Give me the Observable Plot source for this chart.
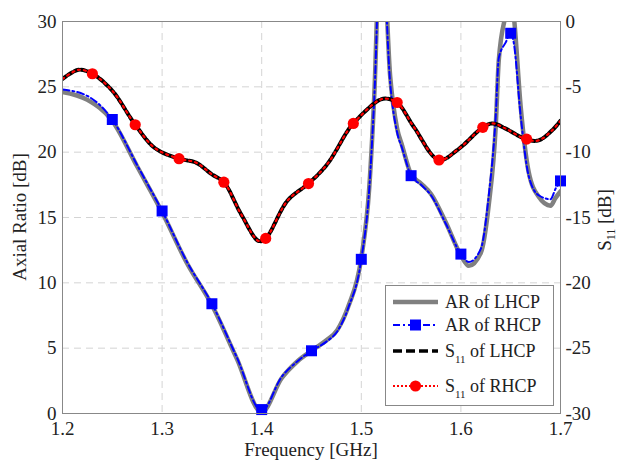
<!DOCTYPE html>
<html><head><meta charset="utf-8">
<script src="https://cdn.jsdelivr.net/npm/d3@7"></script>
<script src="https://cdn.jsdelivr.net/npm/@observablehq/plot@0.6"></script>
<style>
body{margin:0;background:#fff;}
#wrap{position:relative;width:617px;height:460px;font-family:Liberation Serif, DejaVu Serif, serif;}
#wrap svg, #wrap text{font-family:Liberation Serif, DejaVu Serif, serif;}
#legend{position:absolute;left:385px;top:285px;}
</style></head><body><div id="wrap"></div>
<script>
// ---- data ----
const freqAR = [1.200,1.225,1.250,1.275,1.300,1.325,1.350,1.375,1.400,1.420,1.436,1.450,1.465,1.476,1.487,1.500,1.508,1.513,1.520,1.529,1.536,1.541,1.550,1.560,1.570,1.585,1.600,1.608,1.620,1.628,1.635,1.638,1.645,1.650,1.653,1.660,1.668,1.678,1.690,1.695,1.700];
const arRhcp = [24.8,24.3,22.5,19.0,15.5,11.6,8.4,4.3,0.2,2.8,4.0,4.8,5.5,6.3,8.1,11.8,17.2,24.1,37.0,25.3,21.5,20.3,18.2,17.5,16.7,14.5,12.2,11.6,12.6,16.7,22.8,27.2,28.4,29.1,28.4,22.8,18.2,16.7,16.4,17.2,17.8];
const arLhcp = [24.6,24.0,22.4,18.9,15.4,11.5,8.3,4.2,0.1,2.7,4.0,4.8,5.6,6.4,8.2,11.9,17.3,24.3,38.0,25.8,21.8,20.5,18.3,17.6,16.8,14.6,12.1,11.3,12.3,16.0,22.0,27.0,30.5,32.0,30.5,23.5,18.5,16.6,15.9,16.5,17.0];
const freqS11 = [1.200,1.216,1.230,1.250,1.273,1.293,1.317,1.334,1.350,1.362,1.379,1.397,1.404,1.426,1.447,1.466,1.486,1.492,1.516,1.524,1.536,1.553,1.578,1.597,1.622,1.632,1.645,1.665,1.678,1.692,1.700];
const s11Lhcp = [-4.4,-3.7,-4.0,-5.3,-7.9,-9.7,-10.5,-10.8,-11.7,-12.3,-14.7,-16.8,-16.6,-13.7,-12.4,-10.9,-8.4,-7.8,-6.1,-5.9,-6.2,-8.1,-10.6,-9.8,-8.1,-7.8,-8.2,-9.0,-9.1,-8.3,-7.6];
const s11Rhcp = [-4.4,-3.7,-4.0,-5.3,-7.9,-9.7,-10.5,-10.8,-11.7,-12.3,-14.7,-16.8,-16.6,-13.7,-12.4,-10.9,-8.4,-7.8,-6.1,-5.9,-6.2,-8.1,-10.6,-9.8,-8.1,-7.8,-8.2,-9.0,-9.1,-8.3,-7.6];
const rhcpMarkerFreq = [1.25,1.30,1.35,1.40,1.45,1.50,1.55,1.60,1.65,1.70];
const rhcpMarkerAR = [22.5,15.5,8.4,0.3,4.8,11.8,18.2,12.2,29.1,17.8];
const s11MarkerFreq = [1.230,1.273,1.317,1.362,1.404,1.447,1.492,1.536,1.578,1.622,1.666];
const s11MarkerVal = [-4.0,-7.9,-10.5,-12.3,-16.6,-12.4,-7.8,-6.2,-10.6,-8.1,-9.0];
const xTicks = [1.2,1.3,1.4,1.5,1.6,1.7];
const arTicks = [0,5,10,15,20,25,30];
const s11Ticks = [-30,-25,-20,-15,-10,-5,0];
const arDomain = [0,30];
const s11Domain = [-30,0];
const legendLabels = ["AR of LHCP","AR of RHCP","S11 of LHCP","S11 of RHCP"];

// map S11 values onto the left (AR) scale for the twin axis
const s11ToAr = v => arDomain[0] + (v - s11Domain[0]) * (arDomain[1]-arDomain[0])/(s11Domain[1]-s11Domain[0]);
const arToS11 = a => s11Domain[0] + (a - arDomain[0]) * (s11Domain[1]-s11Domain[0])/(arDomain[1]-arDomain[0]);

const arTable = freqAR.map((f,i)=>({f, rhcp:arRhcp[i], lhcp:arLhcp[i]}));
const s11Table = freqS11.map((f,i)=>({f, lhcp:s11ToAr(s11Lhcp[i]), rhcp:s11ToAr(s11Rhcp[i])}));
const sqTable = rhcpMarkerFreq.map((f,i)=>({f, v:rhcpMarkerAR[i]}));
const ciTable = s11MarkerFreq.map((f,i)=>({f, v:s11ToAr(s11MarkerVal[i])}));

const BLUE = "#0000ff", RED = "#ff0000", GREY = "#808080";
const FONT = "Liberation Serif, DejaVu Serif, serif";
const gridStyle = {stroke:"#d4d4d4", strokeOpacity:1, strokeDasharray:"7,5", strokeWidth:1};

const chart = Plot.plot({
  width:617, height:460,
  marginLeft:62, marginRight:57, marginTop:21, marginBottom:47,
  style:{fontFamily:FONT, fontSize:"19px", color:"#222", background:"#fff"},
  x:{domain:[1.2,1.7]},
  y:{domain:arDomain},
  marks:[
    Plot.gridX(xTicks.slice(1,-1), gridStyle),
    Plot.gridY(arTicks.slice(1,-1), gridStyle),
    Plot.line(arTable, {x:"f", y:"lhcp", stroke:GREY, strokeWidth:4.5, curve:"monotone-x", clip:true}),
    Plot.line(arTable, {x:"f", y:"rhcp", stroke:BLUE, strokeWidth:2, strokeDasharray:"7,3,2,3", curve:"monotone-x", clip:true}),
    Plot.line(s11Table, {x:"f", y:"lhcp", stroke:"#000", strokeWidth:4, strokeDasharray:"5,2", curve:"catmull-rom", clip:true}),
    Plot.line(s11Table, {x:"f", y:"rhcp", stroke:RED, strokeWidth:2.2, strokeDasharray:"2,4", curve:"catmull-rom", clip:true}),
    Plot.dot(sqTable, {x:"f", y:"v", symbol:"square", r:6.2, fill:BLUE, stroke:"none"}),
    Plot.dot(ciTable, {x:"f", y:"v", symbol:"circle", r:5.6, fill:RED, stroke:"none"}),
    Plot.frame({stroke:"#888", strokeWidth:1}),
    Plot.axisX(xTicks, {anchor:"bottom", tickSize:0, tickPadding:8, tickFormat:d3.format(".1f"), label:null}),
    Plot.axisY(arTicks, {anchor:"left", tickSize:0, tickPadding:6, tickFormat:d=>String(d), label:null}),
    Plot.axisY(arTicks, {anchor:"right", tickSize:0, tickPadding:5, tickFormat:d=>String(arToS11(d)), label:null})
  ]
});
chart.style.fontFamily = FONT;
document.getElementById("wrap").appendChild(chart);

// axis titles
const svg = d3.select(chart);
const tcol = "#222";
svg.append("text").attr("x",311).attr("y",456).attr("text-anchor","middle").attr("font-family",FONT)
  .attr("fill",tcol).style("font-size","19px").text("Frequency [GHz]");
svg.append("text").attr("transform","translate(26,217) rotate(-90)").attr("text-anchor","middle").attr("font-family",FONT)
  .attr("fill",tcol).style("font-size","19px").text("Axial Ratio [dB]");
const rt = svg.append("text").attr("transform","translate(611,220) rotate(-90)").attr("text-anchor","middle").attr("font-family",FONT)
  .attr("fill",tcol).style("font-size","19px");
rt.append("tspan").text("S");
rt.append("tspan").attr("dy",4).style("font-size","12px").text("11");
rt.append("tspan").attr("dy",-4).text(" [dB]");

// legend
const lg = d3.select("#wrap").append("svg").attr("id","legend").attr("width",169).attr("height",122)
  .attr("font-family",FONT);
lg.append("rect").attr("x",0.5).attr("y",0.5).attr("width",168).attr("height",120).attr("fill","#fff").attr("stroke","#888");
const rows = [17,40,66,101];
const styles = [
  {stroke:GREY, w:4.5, dash:null},
  {stroke:BLUE, w:2, dash:"7,3,2,3", marker:"square"},
  {stroke:"#000", w:3.5, dash:"9,4"},
  {stroke:RED, w:2, dash:"2,2", marker:"circle"}
];
legendLabels.forEach((lab,i)=>{
  const y = rows[i], s = styles[i];
  lg.append("line").attr("x1",8).attr("x2",53).attr("y1",y).attr("y2",y)
    .attr("stroke",s.stroke).attr("stroke-width",s.w).attr("stroke-dasharray",s.dash);
  if (s.marker==="square") lg.append("rect").attr("x",25).attr("y",y-5.5).attr("width",11).attr("height",11).attr("fill",BLUE);
  if (s.marker==="circle") lg.append("circle").attr("cx",30.5).attr("cy",y).attr("r",5.6).attr("fill",RED);
  const t = lg.append("text").attr("x",60).attr("y",y+6).attr("fill",tcol).attr("font-family",FONT).style("font-size","18px");
  if (lab.startsWith("S11")) {
    t.append("tspan").text("S");
    t.append("tspan").attr("dy",6).style("font-size","11px").text("11");
    t.append("tspan").attr("dy",-6).text(lab.slice(3));
  } else t.text(lab);
});
</script></body></html>
